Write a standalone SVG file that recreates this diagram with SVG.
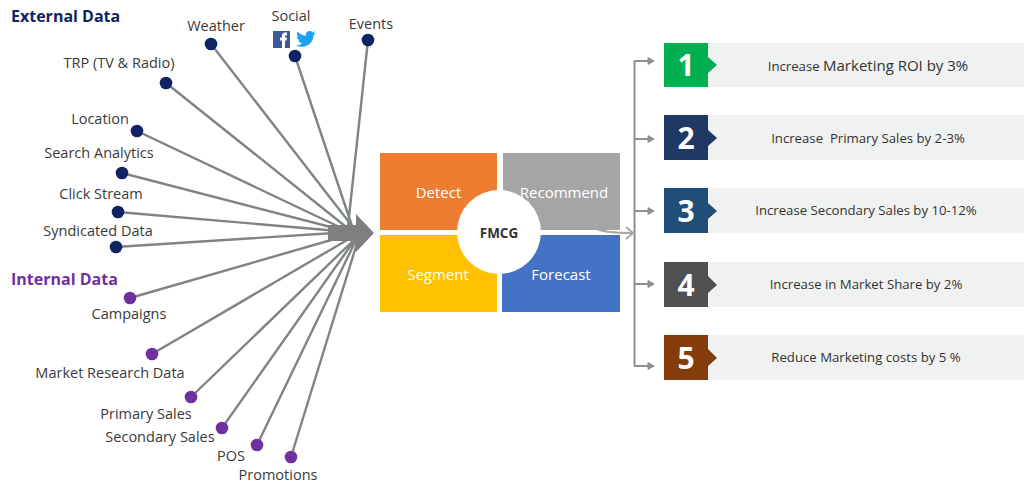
<svg xmlns="http://www.w3.org/2000/svg" width="1024" height="493" viewBox="0 0 1024 493">
<style>
text{font-family:"Open Sans","Noto Sans","Liberation Sans",sans-serif}
.lbl{font-size:14.5px;fill:#3a3a3a;text-anchor:middle}
.head{font-size:16px;font-weight:700}
.ln{stroke:#7f8582;stroke-width:2.4;fill:none}
.bk{stroke:#8a908d;stroke-width:2;fill:none}
.ar{marker-end:url(#ah)}
.ext{fill:#0f2563}
.int{fill:#7030a0}
.q{font-size:15px;fill:#fff;text-anchor:middle}
.num{font-size:30px;font-weight:700;fill:#fff;text-anchor:middle}
.band{fill:#f0f1f1}
.res{font-size:13.2px;fill:#333;text-anchor:middle}
</style>
<defs>
<marker id="ah" markerWidth="8" markerHeight="8" refX="7" refY="4" orient="auto" markerUnits="userSpaceOnUse"><path d="M1 0.500L7 4L1 7.500Z" fill="#8a908d" stroke="#8a908d" stroke-width="1"/></marker>
<marker id="ah2" markerWidth="14" markerHeight="14" refX="11" refY="7" orient="auto" markerUnits="userSpaceOnUse"><path d="M5 1L12 7L5 13" fill="none" stroke="#a6a6a6" stroke-width="2"/></marker>
</defs>
<g id="connectors">
<path class="ln" d="M211 44L352 226M295 56L352 226M368 40L348 226M166 83L350 230M137 131L350 232M122 173L350 232M118 212L350 232M116 247L350 232M130 298L352 234M152 354L354 236M191 397L356 238M222 428L356 238M257 445L356 240M291 457L358 240"/>
<path d="M328 225H356V214L374 233L356 252V241H328Z" fill="#7f7f7f"/>
<path class="bk" d="M634.500 61V366"/>
<path class="bk ar" d="M634 61H654"/>
<path class="bk ar" d="M635 139H654"/>
<path class="bk ar" d="M635 211H654"/>
<path class="bk ar" d="M635 284H654"/>
<path class="bk ar" d="M634 366H654"/>
<path d="M597 229Q606 233 632 233" fill="none" stroke="#a6a6a6" stroke-width="2" marker-end="url(#ah2)"/>
</g>
<g id="heading-external"><text class="head" x="11" y="22" fill="#0f2563">External Data</text></g>
<g id="heading-internal"><text class="head" x="11" y="285" fill="#7030a0">Internal Data</text></g>
<g id="weather"><circle class="ext" cx="211" cy="44" r="6.300"/><text class="lbl" x="216" y="31">Weather</text></g>
<g id="social"><circle class="ext" cx="295" cy="56" r="6.300"/><text class="lbl" x="291" y="21">Social</text>
<rect x="273" y="31" width="17" height="17" fill="#3b5998"/><path d="M282 48V40.500H280V37.500H282V35.500C282 33.500 283.500 32.500 285 32.500H287V35.500H285.800C285 35.500 285 36 285 36.500V37.500H287L286.600 40.500H285V48Z" fill="#fff"/>
<path d="M296 45.500C303 49 313 45.500 313.500 35.500L316 33L313 33.500L315.500 31L312.500 32.300C310 29.500 305 31.500 306 35.800C302 35.500 299.500 33.500 297.500 31.500C296.500 33.500 297 35.500 298.500 37L296.800 36.500C297 38.500 298 39.800 300 40.500L298.200 40.600C299 42 300 42.800 302 43C300.500 44.800 298.500 45.500 296 45.500Z" fill="#1da1f2"/></g>
<g id="events"><circle class="ext" cx="368" cy="40" r="6.300"/><text class="lbl" x="371" y="29">Events</text></g>
<g id="trp"><circle class="ext" cx="166" cy="83" r="6.300"/><text class="lbl" x="119" y="68">TRP (TV &amp; Radio)</text></g>
<g id="location"><circle class="ext" cx="137" cy="131" r="6.300"/><text class="lbl" x="100" y="124">Location</text></g>
<g id="search"><circle class="ext" cx="122" cy="173" r="6.300"/><text class="lbl" x="99" y="158">Search Analytics</text></g>
<g id="click"><circle class="ext" cx="118" cy="212" r="6.300"/><text class="lbl" x="101" y="199">Click Stream</text></g>
<g id="syndicated"><circle class="ext" cx="116" cy="247" r="6.300"/><text class="lbl" x="98" y="236">Syndicated Data</text></g>
<g id="campaigns"><circle class="int" cx="130" cy="298" r="6.300"/><text class="lbl" x="129" y="319">Campaigns</text></g>
<g id="market"><circle class="int" cx="152" cy="354" r="6.300"/><text class="lbl" x="110" y="378">Market Research Data</text></g>
<g id="primary"><circle class="int" cx="191" cy="397" r="6.300"/><text class="lbl" x="146" y="419">Primary Sales</text></g>
<g id="secondary"><circle class="int" cx="222" cy="428" r="6.300"/><text class="lbl" x="160" y="442">Secondary Sales</text></g>
<g id="pos"><circle class="int" cx="257" cy="445" r="6.300"/><text class="lbl" x="231" y="461">POS</text></g>
<g id="promotions"><circle class="int" cx="291" cy="457" r="6.300"/><text class="lbl" x="278" y="480">Promotions</text></g>
<g id="detect"><rect x="380" y="153" width="117" height="77" fill="#ed7d31"/><text class="q" x="438.500" y="198">Detect</text></g>
<g id="recommend"><rect x="503" y="153" width="117" height="77" fill="#a5a5a5"/><text class="q" x="564" y="198">Recommend</text></g>
<g id="segment"><rect x="380" y="235" width="117" height="77" fill="#ffc000"/><text class="q" x="438" y="280">Segment</text></g>
<g id="forecast"><rect x="502" y="235" width="118" height="77" fill="#4472c4"/><text class="q" x="561" y="280">Forecast</text></g>
<g id="fmcg"><circle cx="499" cy="232" r="42" fill="#fff"/><text x="499" y="238" font-size="13.500" font-weight="700" fill="#333" text-anchor="middle">FMCG</text></g>
<g id="item1"><rect class="band" x="708" y="43" width="316" height="44"/><path d="M664 43H708V57L717 65L708 73V87H664Z" fill="#00b050"/><text class="num" x="686" y="76">1</text><text class="res" x="868" y="71">Increase <tspan font-size="15">Marketing ROI by 3%</tspan></text></g>
<g id="item2"><rect class="band" x="708" y="115" width="316" height="45"/><path d="M664 115H708V130L717 138L708 146V160H664Z" fill="#1f3864"/><text class="num" x="686" y="149">2</text><text class="res" x="868" y="143" xml:space="preserve">Increase  Primary Sales by 2-3%</text></g>
<g id="item3"><rect class="band" x="708" y="188" width="316" height="45"/><path d="M664 188H708V203L717 211L708 219V233H664Z" fill="#1f4e79"/><text class="num" x="686" y="222">3</text><text class="res" x="866" y="215">Increase Secondary Sales by 10-12%</text></g>
<g id="item4"><rect class="band" x="708" y="262" width="316" height="45"/><path d="M664 262H708V276L717 285L708 293V307H664Z" fill="#505050"/><text class="num" x="686" y="296">4</text><text class="res" x="866" y="289">Increase in Market Share by 2%</text></g>
<g id="item5"><rect class="band" x="708" y="335" width="316" height="45"/><path d="M664 335H708V349L717 358L708 366V380H664Z" fill="#843c0c"/><text class="num" x="686" y="369">5</text><text class="res" x="866" y="362">Reduce Marketing costs by 5 %</text></g>
</svg>
